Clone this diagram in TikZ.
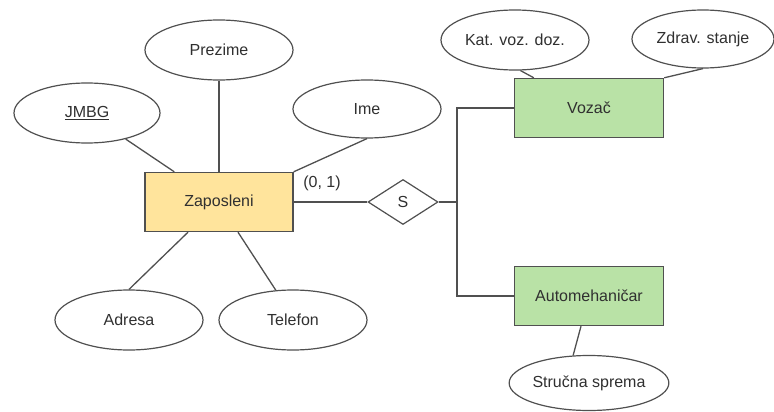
\documentclass[tikz,border=0pt]{standalone}
\usepackage{fontspec}
\setmainfont{Liberation Sans}
\usetikzlibrary{shapes.geometric}
\definecolor{entyel}{HTML}{FFE49C}
\definecolor{entgrn}{HTML}{B9E2A6}
\definecolor{strk}{HTML}{505050}
\definecolor{txt}{HTML}{303030}
\begin{document}
\begin{tikzpicture}[x=1pt,y=-1pt,
  every node/.style={font=\fontsize{16}{19}\selectfont, text=txt},
  attr/.style={draw=strk, line width=1.2pt, ellipse, inner sep=0pt, minimum width=148, minimum height=60, fill=white},
  entity/.style={draw=strk, line width=1.4pt, rectangle, inner sep=0pt, minimum width=148, minimum height=59},
  rel/.style={draw=strk, line width=1.2pt, diamond, inner sep=0pt, minimum width=70, minimum height=45, fill=white},
  conn/.style={draw=strk, line width=1.3pt}]
\useasboundingbox (0,0) rectangle (774,412);
% entities
\node[entity, fill=entyel] (zap) at (219,202) {Zaposleni};
\node[entity, fill=entgrn, minimum width=149] (vozac) at (589,108) {Vozač};
\node[entity, fill=entgrn, minimum width=149] (auto) at (589,296) {Automehaničar};
% attributes
\node[attr] (prezime) at (219,50) {Prezime};
\node[attr, minimum width=146] (jmbg) at (87,113) {\underline{JMBG}};
\node[attr, minimum height=58] (ime) at (367,109) {Ime};
\node[attr] (adresa) at (129,320) {Adresa};
\node[attr] (telefon) at (293,320) {Telefon};
\node[attr] (kat) at (515,40) {Kat. voz. doz.};
\node[attr, minimum width=142, minimum height=58] (zdrav) at (703,39) {Zdrav. stanje};
\node[attr, minimum width=147, minimum height=55] (strucna) at (589,383) {Stručna sprema};
% relationship
\node[rel] (s) at (403,202) {S};
\coordinate (j) at (457,202);
% connectors
\draw[conn] (zap) -- (jmbg);
\draw[conn] (zap) -- (prezime);
\draw[conn] (zap.north east) -- (ime.south);
\draw[conn] ([xshift=-31pt]zap.south) -- (adresa.north);
\draw[conn] ([xshift=19pt]zap.south) -- (telefon.120);
\draw[conn] (zap.east) -- (s.west);
\draw[conn] (s.east) -- (j);
\draw[conn] (vozac.west) -| (j) |- (auto.west);
\draw[conn] ([xshift=20pt]vozac.north west) -- (kat.280);
\draw[conn] (vozac.north east) -- (zdrav.south);
\draw[conn] ([xshift=-8pt]auto.south) -- (strucna.120);
\node[anchor=center] (card) at (322,183) {(0, 1)};
\end{tikzpicture}
\end{document}
